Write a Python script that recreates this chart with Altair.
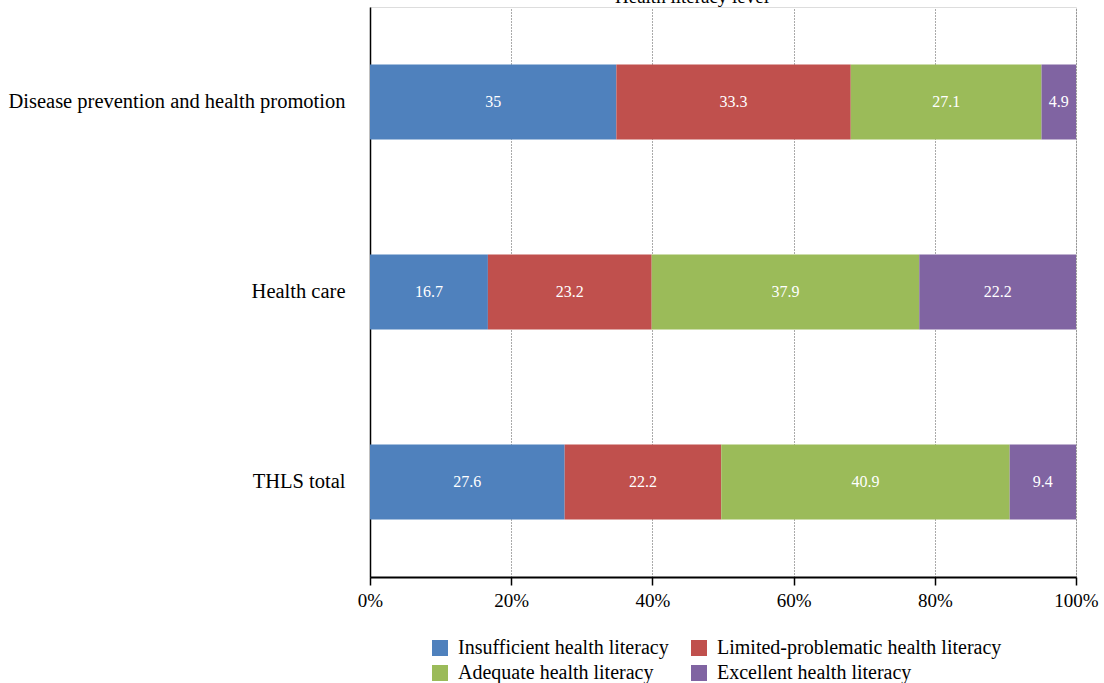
import altair as alt
import pandas as pd

categories = ["Disease prevention and health promotion", "Health care", "THLS total"]
series = ["Insufficient health literacy", "Limited-problematic health literacy",
          "Adequate health literacy", "Excellent health literacy"]
values = {
    "Insufficient health literacy": [35, 16.7, 27.6],
    "Limited-problematic health literacy": [33.3, 23.2, 22.2],
    "Adequate health literacy": [27.1, 37.9, 40.9],
    "Excellent health literacy": [4.9, 22.2, 9.4],
}
colors = ["#4F81BD", "#C0504D", "#9BBB59", "#8064A2"]

rows = []
for si, s in enumerate(series):
    for ci, c in enumerate(categories):
        rows.append({"cat": c, "series": s, "value": values[s][ci], "order": si})
df = pd.DataFrame(rows)

FONT = "Liberation Serif"

base = alt.Chart(df).transform_stack(
    stack="value", groupby=["cat"], as_=["x0", "x1"], offset="normalize",
    sort=[alt.SortField("order", order="ascending")]
).transform_calculate(mid="(datum.x0 + datum.x1) / 2")

y_enc = alt.Y("cat:N", sort=categories, title=None,
              scale=alt.Scale(paddingInner=0.605, paddingOuter=0.3025),
              axis=alt.Axis(labelFontSize=20.5, labelFont=FONT, labelColor="black",
                            ticks=False, labelPadding=25, domainColor="black",
                            domainWidth=1.5, grid=False, labelLimit=400))

bars = base.mark_bar().encode(
    x=alt.X("x0:Q", title=None, scale=alt.Scale(domain=[0, 1]),
            axis=alt.Axis(format="%", values=[0, 0.2, 0.4, 0.6, 0.8, 1.0],
                          labelFontSize=19, labelFont=FONT, labelColor="black",
                          labelFlush=False,
                          domainColor="black", domainWidth=2, tickColor="black",
                          tickSize=8, tickWidth=1.5, labelPadding=6,
                          grid=True, gridColor="#555555", gridDash=[1, 2], gridWidth=1)),
    x2="x1:Q",
    y=y_enc,
    color=alt.Color("series:N", sort=series,
                    scale=alt.Scale(domain=series, range=colors),
                    legend=alt.Legend(title=None, orient="none", legendX=60, legendY=631,
                                      direction="horizontal",
                                      columns=2, columnPadding=20, rowPadding=5,
                                      symbolType="square", symbolSize=256,
                                      symbolStrokeWidth=0, labelFontSize=20,
                                      labelFont=FONT, labelColor="black",
                                      labelLimit=400, symbolOffset=0, labelOffset=8)),
    order=alt.Order("order:Q"),
)

labels = base.mark_text(color="white", fontSize=16, font=FONT).encode(
    x=alt.X("mid:Q"),
    y=alt.Y("cat:N", sort=categories),
    text=alt.Text("value:Q"),
)

title_txt = alt.Chart(pd.DataFrame({"t": ["Health literacy level"]})).mark_text(
    fontSize=19, font=FONT, color="black", baseline="alphabetic"
).encode(x=alt.value(322), y=alt.value(-4), text="t:N")

chart = alt.layer(bars, labels, title_txt).properties(
    width=706, height=570,
    autosize=alt.AutoSizeParams(type="none"),
    padding={"left": 370, "top": 7, "right": 28, "bottom": 106},
).configure_view(stroke=None).configure(background="white")

chart.save("out.html", embed_options={"renderer": "svg", "actions": False})
